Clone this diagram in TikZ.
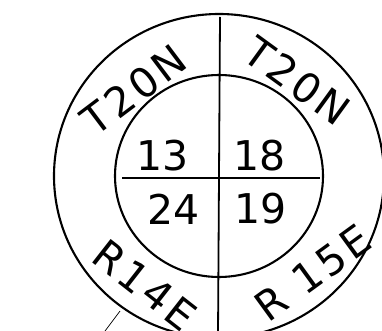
\documentclass[tikz,border=0pt]{standalone}
\usepackage{fontspec}
\setmainfont{DejaVu Sans}
\newfontfamily\ringfont[LetterSpace=9]{DejaVu Sans}

\begin{document}
\begin{tikzpicture}[x=1pt,y=-1pt,
  ring/.style={font=\ringfont\fontsize{41}{41}\selectfont,inner sep=0pt},
  section/.style={font=\fontsize{41}{41}\selectfont,inner sep=0pt},
  rim/.style={line width=2.1pt}
]
  \useasboundingbox (0,0) rectangle (382,331);
  \clip (0,0) rectangle (382,331);
  \coordinate (c) at (219,176);
  % rings and section lines
  \draw[rim] (c) ellipse [x radius=165,y radius=162];
  \draw[rim] (c) ellipse [x radius=104,y radius=101];
  \coordinate (top) at (220,17);
  \coordinate (bot) at (218,335);
  \coordinate (w) at (122,178);
  \coordinate (e) at (320,178);
  \draw[line width=1.8pt] (top) -- (bot);
  \draw[line width=1.8pt] (w) -- (e);
  % township and range
  \node[ring,rotate=37] (tnw) at (134,90) {T20N};
  \node[ring,rotate=-36] (tne) at (297,81) {T20N};
  \node[ring,rotate=-38] (rsw) at (145,285) {R14E};
  \node[ring,rotate=36] (rse) at (313,273) {R 15E};
  % section numbers
  \node[section] (s13) at (163,156) {13};
  \node[section] (s18) at (260,156) {18};
  \node[section] (s24) at (174,209) {24};
  \node[section] (s19) at (261,209) {19};
  % leader
  \coordinate (lead) at (105,331);
  \draw[line width=.7pt] (120,311) -- (lead);
\end{tikzpicture}
\end{document}
